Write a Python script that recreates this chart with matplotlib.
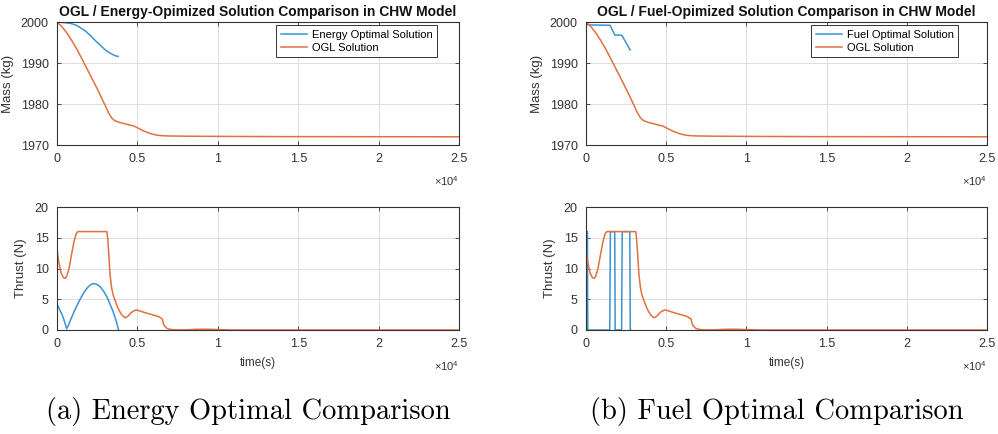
import matplotlib
matplotlib.use("Agg")
import matplotlib.pyplot as plt
from matplotlib.ticker import FuncFormatter

plt.rcParams['font.family'] = ['Liberation Sans', 'DejaVu Sans']
plt.rcParams['mathtext.fontset'] = 'custom'
plt.rcParams['mathtext.rm'] = 'Liberation Sans'

# ---- data ----
# energy optimal solution
t_energy_mass = [0, 300, 600, 900, 1200, 1500, 1800, 2100, 2400, 2700, 3000, 3300, 3600, 3800]
m_energy = [2000, 1999.9, 1999.8, 1999.6, 1999.2, 1998.5, 1997.7, 1996.6, 1995.4, 1994.3,
            1993.2, 1992.4, 1991.8, 1991.6]
t_energy_thr = [0, 0, 100, 200, 300, 400, 500, 600, 700, 900, 1100, 1300, 1500, 1700, 1900,
                2100, 2300, 2500, 2700, 2900, 3100, 3300, 3500, 3700, 3830]
thr_energy = [0, 4.2, 3.7, 3.1, 2.6, 1.9, 1.1, 0.2, 0.7, 2.0, 3.2, 4.3, 5.3, 6.2, 6.9,
              7.4, 7.55, 7.4, 7.0, 6.3, 5.4, 4.2, 2.9, 1.3, 0]

# fuel optimal solution (bang-bang)
t_fuel_mass = [0, 100, 1500, 1800, 2230, 2750]
m_fuel = [2000, 1999.3, 1999.2, 1996.8, 1996.8, 1993.2]
t_fuel_thr = [0, 0, 90, 110, 1480, 1520, 1790, 1820, 2220, 2260, 2730, 2760, 2790]
thr_fuel = [0, 16, 16, 0, 0, 16, 16, 0, 0, 16, 16, 0, 0]

# OGL solution (same in both panels)
t_ogl_mass = [0, 300, 600, 900, 1200, 1500, 1800, 2100, 2400, 2700, 3000, 3200, 3400, 3600,
              3900, 4200, 4500, 4800, 5000, 5400, 5800, 6200, 6600, 7000, 8000, 10000, 14000, 25000]
m_ogl = [2000, 1998.9, 1997.4, 1995.6, 1993.6, 1991.4, 1989.1, 1986.8, 1984.5, 1982.1,
         1979.6, 1977.9, 1976.6, 1975.9, 1975.5, 1975.2, 1974.9, 1974.6, 1974.2, 1973.4,
         1972.8, 1972.4, 1972.25, 1972.2, 1972.15, 1972.1, 1972.05, 1972.0]
t_ogl_thr = [0, 100, 250, 400, 500, 600, 750, 900, 1050, 1200, 1300, 3100, 3150, 3230, 3300,
             3400, 3500, 3600, 3750, 3900, 4050, 4230, 4400, 4600, 4800, 4950, 5150, 5500,
             5900, 6300, 6550, 6620, 6700, 6850, 7100, 7500, 8000, 8700, 9300, 10000, 10800,
             12000, 25000]
thr_ogl = [13, 11.2, 9.3, 8.5, 8.4, 8.7, 10, 12.2, 14.3, 15.7, 16, 16, 15, 12, 9,
           6.8, 5.6, 4.9, 3.8, 3.0, 2.4, 2.0, 2.2, 2.8, 3.15, 3.25, 3.1, 2.8,
           2.5, 2.2, 1.8, 1.0, 0.6, 0.25, 0.08, 0.02, 0.03, 0.12, 0.13, 0.07, 0.01,
           0, 0]

titles = ["OGL / Energy-Opimized Solution Comparison in CHW Model",
          "OGL / Fuel-Opimized Solution Comparison in CHW Model"]
labels = ["Energy Optimal Solution", "Fuel Optimal Solution"]
captions = ["(a) Energy Optimal Comparison", "(b) Fuel Optimal Comparison"]
xticks = [0, 5000, 10000, 15000, 20000, 25000]

BLUE = '#3a93d2'
ORANGE = '#e2703f'
DARK = '#333333'

fig = plt.figure(figsize=(9.98, 4.34), dpi=100)

lefts = [57 / 998, 586 / 998]
widths = [402 / 998, 401 / 998]
mass_data = [(t_energy_mass, m_energy), (t_fuel_mass, m_fuel)]
thr_data = [(t_energy_thr, thr_energy), (t_fuel_thr, thr_fuel)]
leg_x = [0.945, 0.928]
cap_x = [248 / 998, 777 / 998]


def style(ax):
    ax.set_xlim(0, 25000)
    ax.set_xticks(xticks)
    ax.xaxis.set_major_formatter(FuncFormatter(lambda v, p: f'{v / 1e4:g}'))
    ax.grid(True, color='#dedede', lw=0.7)
    ax.set_axisbelow(True)
    ax.tick_params(direction='in', length=3, top=True, right=True, labelsize=9,
                   colors=DARK, pad=6, width=0.6)
    for s in ax.spines.values():
        s.set_color(DARK)
        s.set_linewidth(0.8)
    ax.text(1, -0.24, r'$\times\mathregular{10^4}$', transform=ax.transAxes,
            ha='right', va='top', fontsize=8, color=DARK)


for i in range(2):
    ax1 = fig.add_axes([lefts[i], 1 - 145 / 434, widths[i], 123 / 434])
    ax1.plot(mass_data[i][0], mass_data[i][1], color=BLUE, lw=1.1, label=labels[i])
    ax1.plot(t_ogl_mass, m_ogl, color=ORANGE, lw=1.1, label="OGL Solution")
    ax1.set_ylim(1970, 2000)
    ax1.set_yticks([1970, 1980, 1990, 2000])
    style(ax1)
    ax1.set_ylabel("Mass (kg)", fontsize=9.5, color=DARK)
    ax1.yaxis.set_label_coords(-0.108, 0.5)
    ax1.set_title(titles[i], fontweight='bold', fontsize=10, pad=4, color='#111111')
    leg = ax1.legend(loc='upper right', bbox_to_anchor=(leg_x[i], 0.975), fontsize=8,
                     fancybox=False, framealpha=1, edgecolor=DARK, borderaxespad=0,
                     handlelength=2.4, labelspacing=0.3, handletextpad=0.4)
    leg.get_frame().set_linewidth(0.7)

    ax2 = fig.add_axes([lefts[i], 1 - 330 / 434, widths[i], 123 / 434])
    ax2.plot(thr_data[i][0], thr_data[i][1], color=BLUE, lw=1.1)
    ax2.plot(t_ogl_thr, thr_ogl, color=ORANGE, lw=1.1)
    ax2.set_ylim(0, 20)
    ax2.set_yticks([0, 5, 10, 15, 20])
    style(ax2)
    ax2.set_ylabel("Thrust (N)", fontsize=9.5, color=DARK)
    ax2.yaxis.set_label_coords(-0.075, 0.5)
    ax2.set_xlabel("time(s)", fontsize=8.5, color=DARK, labelpad=5)

    fig.text(cap_x[i], 1 - 411 / 434, captions[i], family='cmr10', fontsize=20.5,
             ha='center', va='center')

fig.savefig("out.png", dpi=100)
